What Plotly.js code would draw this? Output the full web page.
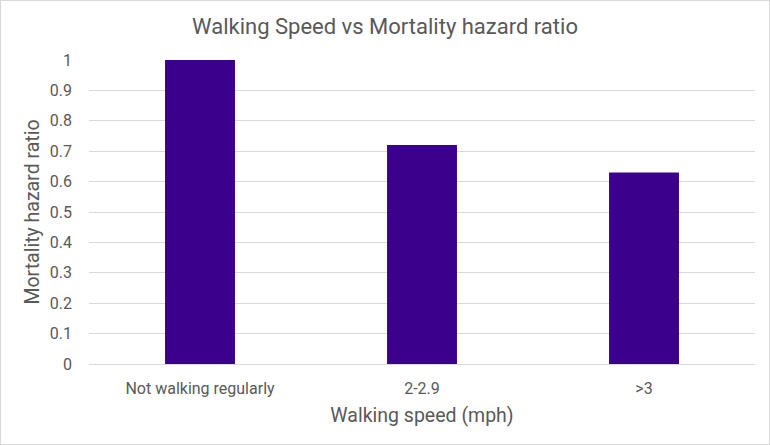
<!DOCTYPE html>
<html>
<head>
<meta charset="utf-8">
<script src="https://cdn.plot.ly/plotly-3.0.1.min.js"></script>
<style>
  html, body { margin: 0; padding: 0; background: #fff; }
  #chart { width: 770px; height: 445px; }
  #frame { position: absolute; left: 0; top: 0; width: 768px; height: 443px; border: 1px solid #d9d9d9; pointer-events: none; }
</style>
</head>
<body>
<div id="chart"></div>
<div id="frame"></div>
<script>
var categories = ['Not walking regularly', '2-2.9', '>3'];
var hazardRatio = [1, 0.72, 0.63];
var yTicks = [0, 0.1, 0.2, 0.3, 0.4, 0.5, 0.6, 0.7, 0.8, 0.9, 1];
var yTickText = ['0', '0.1', '0.2', '0.3', '0.4', '0.5', '0.6', '0.7', '0.8', '0.9', '1'];

var fontFam = 'Roboto, "Open Sans", sans-serif';

var bars = {
    x: categories,
    y: hazardRatio,
    type: 'bar',
    width: 0.315,
    marker: { color: '#3b008c' },
    hoverinfo: 'none'
};

var layout = {
    width: 770,
    height: 445,
    margin: { l: 89, r: 15, t: 60, b: 81 },
    paper_bgcolor: '#fff',
    plot_bgcolor: '#fff',
    showlegend: false,
    font: { family: fontFam, color: '#595959', size: 16 },
    title: {
        text: 'Walking Speed vs Mortality hazard ratio',
        font: { family: fontFam, size: 22, color: '#595959' },
        x: 0.5, xanchor: 'center', y: 0.94, yanchor: 'middle'
    },
    xaxis: {
        showgrid: false,
        showline: false,
        ticks: '',
        ticklabelstandoff: 13,
        tickfont: { size: 16, color: '#595959' },
        title: { text: 'Walking speed (mph)', font: { size: 19.5, color: '#595959' }, standoff: 11 }
    },
    yaxis: {
        range: [0, 1],
        tickvals: yTicks,
        ticktext: yTickText,
        showgrid: true,
        gridcolor: '#d9d9d9',
        gridwidth: 1,
        zeroline: true,
        zerolinecolor: '#d9d9d9',
        zerolinewidth: 1,
        showline: false,
        ticks: '',
        ticklabelstandoff: 16,
        tickfont: { size: 16, color: '#595959' },
        title: { text: 'Mortality hazard ratio', font: { size: 19.5, color: '#595959' }, standoff: 4 }
    }
};

Plotly.newPlot('chart', [bars], layout, { displayModeBar: false, staticPlot: true });
</script>
</body>
</html>
